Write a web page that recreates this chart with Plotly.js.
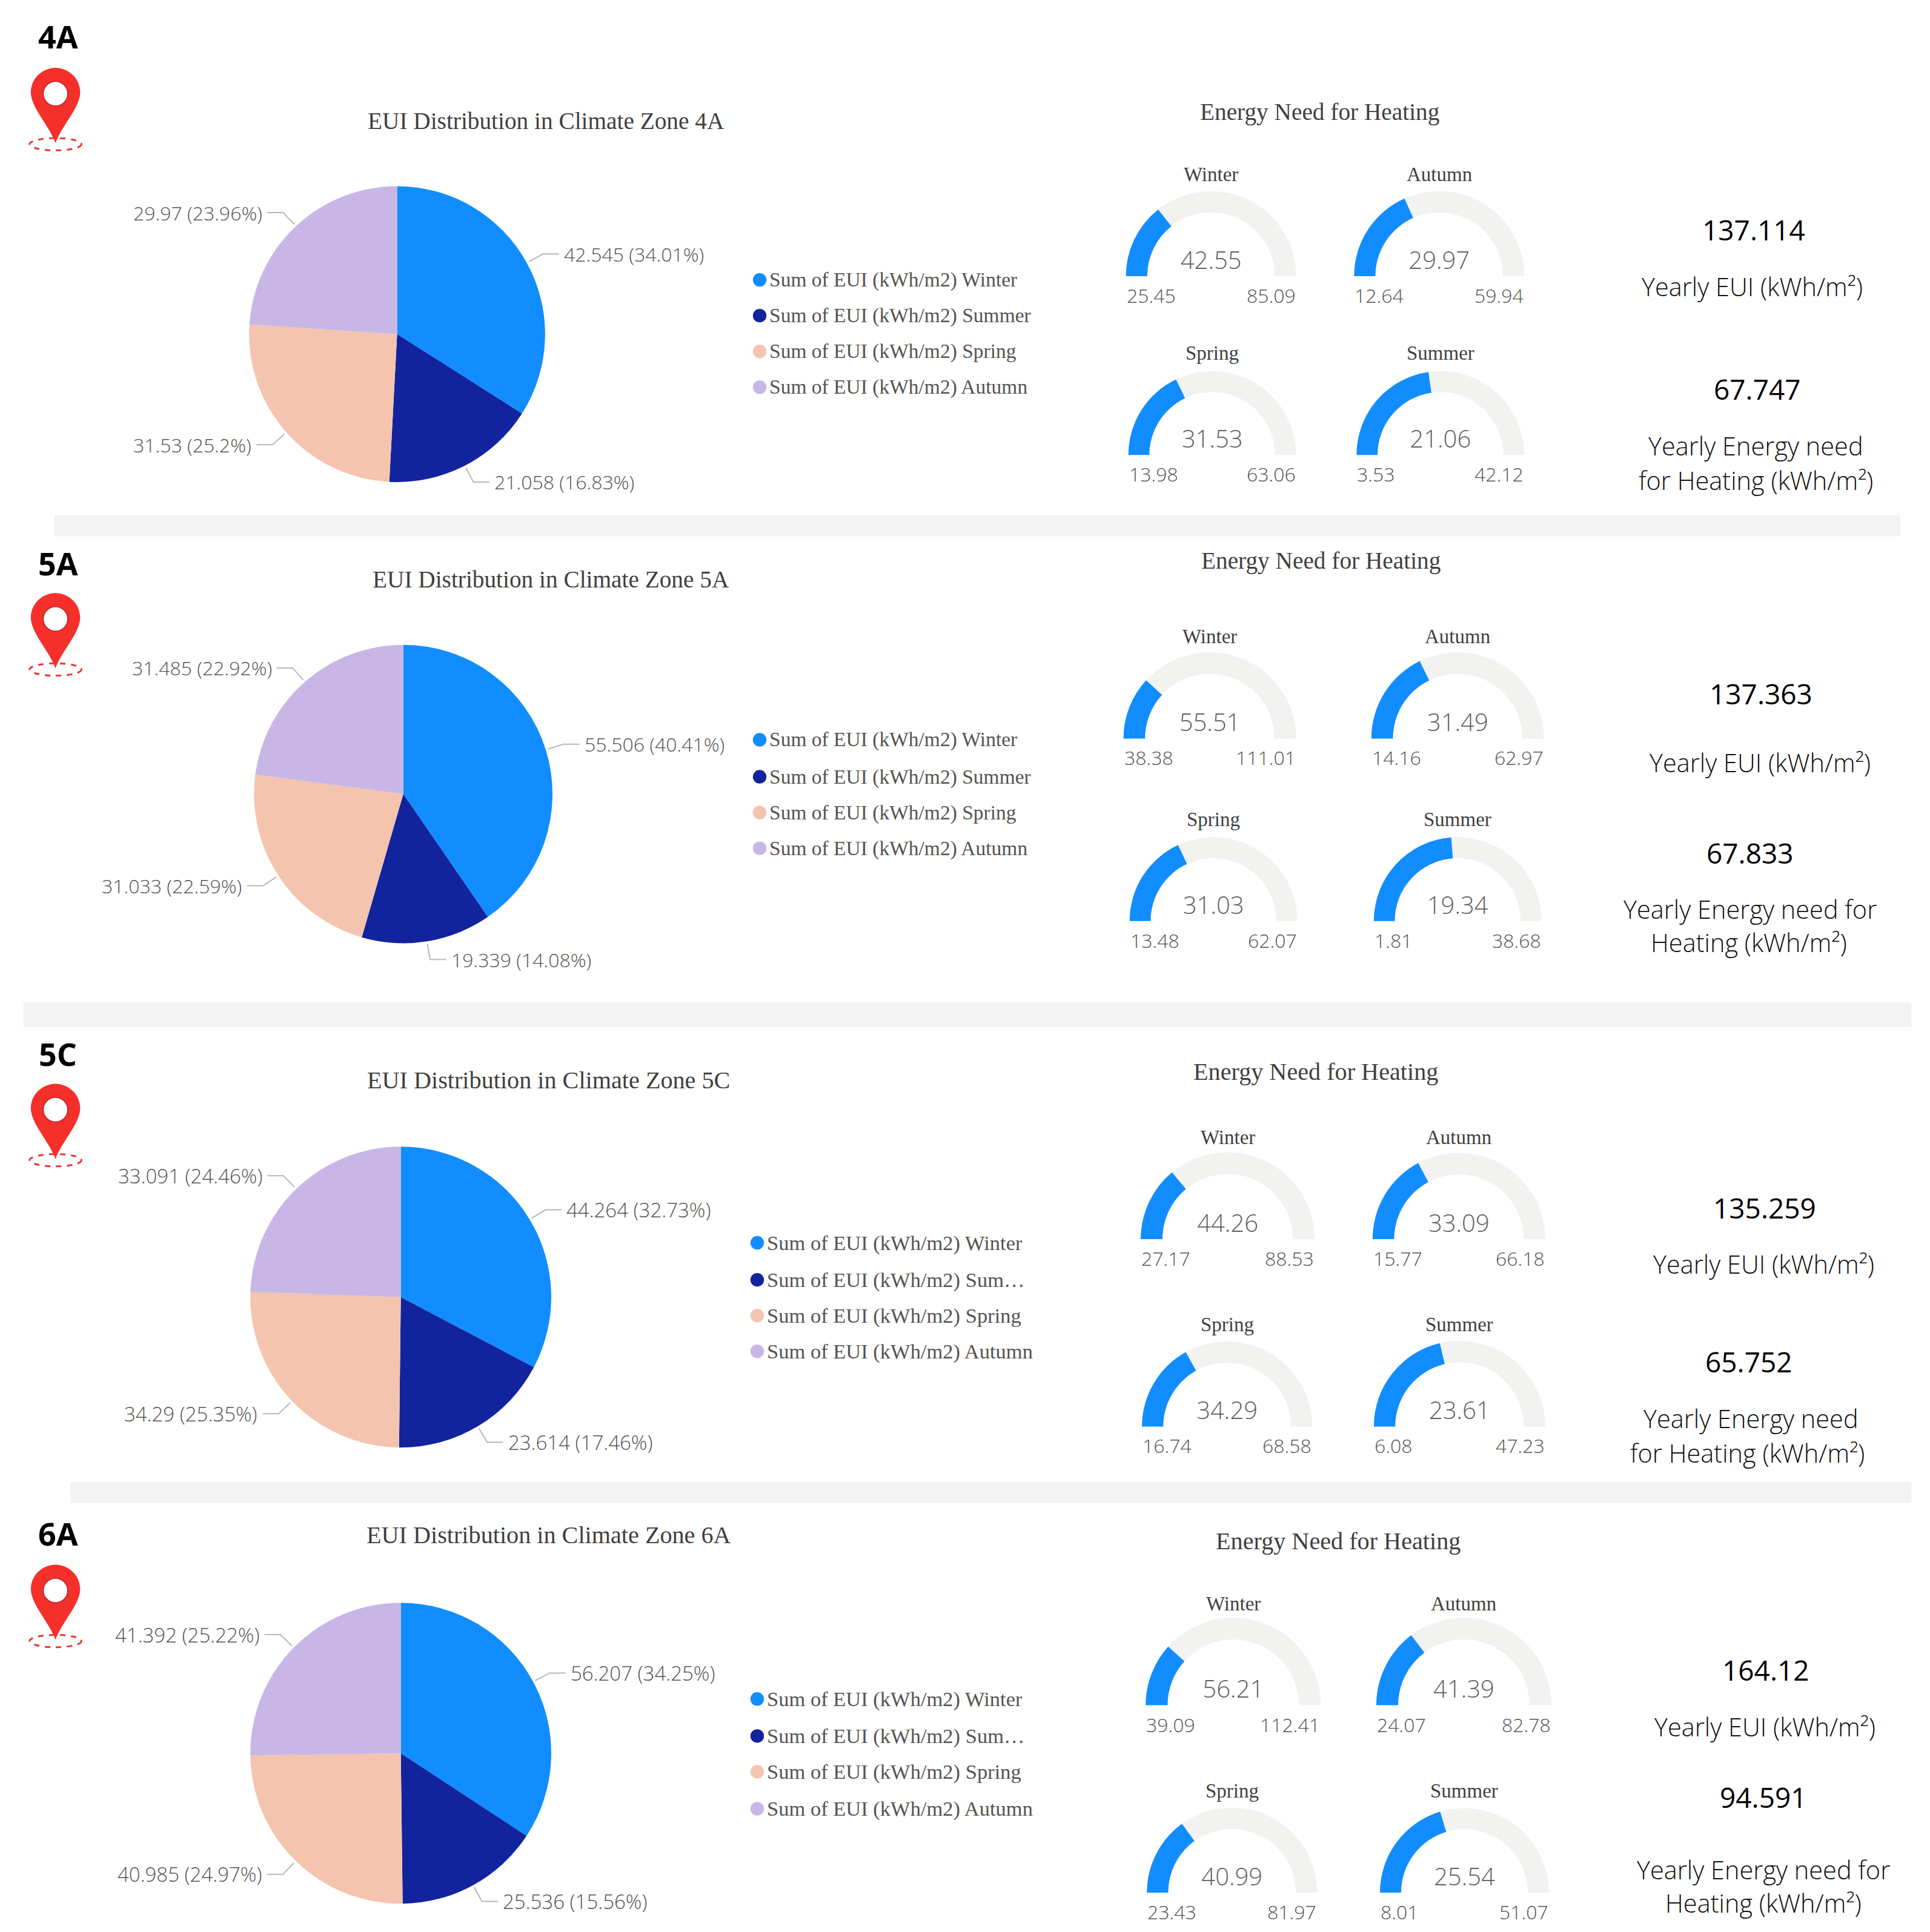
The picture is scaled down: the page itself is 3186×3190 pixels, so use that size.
<!DOCTYPE html>
<html><head><meta charset="utf-8">
<script src="https://cdn.plot.ly/plotly-3.0.1.min.js"></script>
<style>html,body{margin:0;padding:0;background:#fff}</style></head>
<body><div id="chart" style="width:3186px;height:3190px"></div>
<script>
// ---------- data ----------
const zones = ['4A','5A','5C','6A'];
const sliceNames = ['Winter','Summer','Spring','Autumn'];
const sliceColors = ['#118DFF','#12239E','#F4C4AE','#C8B7E6'];
const legendLong = ['Sum of EUI (kWh/m2) Winter','Sum of EUI (kWh/m2) Summer','Sum of EUI (kWh/m2) Spring','Sum of EUI (kWh/m2) Autumn'];
const legendShort = ['Sum of EUI (kWh/m2) Winter','Sum of EUI (kWh/m2) Sum…','Sum of EUI (kWh/m2) Spring','Sum of EUI (kWh/m2) Autumn'];

const pie4A = [42.545,21.058,31.53,29.97];
const pie5A = [55.506,19.339,31.033,31.485];
const pie5C = [44.264,23.614,34.29,33.091];
const pie6A = [56.207,25.536,40.985,41.392];
const pct4A = ['34.01%','16.83%','25.2%','23.96%'];
const pct5A = ['40.41%','14.08%','22.59%','22.92%'];
const pct5C = ['32.73%','17.46%','25.35%','24.46%'];
const pct6A = ['34.25%','15.56%','24.97%','25.22%'];

const gaugeNames = ['Winter','Autumn','Spring','Summer'];
const gaugeVal4A = [42.55,29.97,31.53,21.06];
const gaugeMin4A = [25.45,12.64,13.98,3.53];
const gaugeMax4A = [85.09,59.94,63.06,42.12];
const gaugeVal5A = [55.51,31.49,31.03,19.34];
const gaugeMin5A = [38.38,14.16,13.48,1.81];
const gaugeMax5A = [111.01,62.97,62.07,38.68];
const gaugeVal5C = [44.26,33.09,34.29,23.61];
const gaugeMin5C = [27.17,15.77,16.74,6.08];
const gaugeMax5C = [88.53,66.18,68.58,47.23];
const gaugeVal6A = [56.21,41.39,40.99,25.54];
const gaugeMin6A = [39.09,24.07,23.43,8.01];
const gaugeMax6A = [112.41,82.78,81.97,51.07];

const yearlyEUI = ['137.114','137.363','135.259','164.12'];
const yearlyNeed = ['67.747','67.833','65.752','94.591'];
const needLabel1 = ['Yearly Energy need','Yearly Energy need for','Yearly Energy need','Yearly Energy need for'];
const needLabel2 = ['for Heating (kWh/m²)','Heating (kWh/m²)','for Heating (kWh/m²)','Heating (kWh/m²)'];

// ---------- layout positions (in 1565-wide design units) ----------
const W=3186,H=3190,S=W/1565;
const X=v=>v*S/W, Y=v=>1-v*S/H;
const SERIF='"Liberation Serif", serif', SANS='"Open Sans", sans-serif';
const GREY='#555351', TITLE='#3f3f3f';

const sections=[
 {pie:pie4A,pct:pct4A,val:gaugeVal4A,min:gaugeMin4A,max:gaugeMax4A,legend:legendLong,titleSize:39.3,labelSize:32,legendSize:33.5,
  zoneY:30,pinTop:55,c:[322,271],r:120,title:[443,98],need:[1070,91],lx:616,ly:[227,256,285,314],
  g:[[913,1051,224],[1098,1236,224],[915,1051,369],[1100,1236,369]],
  k:[[1422,187],[1421,233],[1425,316],[1424,362],[1424,390]]},
 {pie:pie5A,pct:pct5A,val:gaugeVal5A,min:gaugeMin5A,max:gaugeMax5A,legend:legendLong,titleSize:39.3,labelSize:32,legendSize:33.5,
  zoneY:457,pinTop:481,c:[327,644],r:121,title:[447,470],need:[1071,455],lx:616,ly:[600,630,659,688],
  g:[[911,1051,599],[1112,1252,599],[916,1052,747],[1114,1250,747]],
  k:[[1428,563],[1427,619],[1419,692],[1419,738],[1418,765]]},
 {pie:pie5C,pct:pct5C,val:gaugeVal5C,min:gaugeMin5C,max:gaugeMax5C,legend:legendShort,titleSize:40.2,labelSize:33,legendSize:34.5,
  zoneY:855,pinTop:879,c:[325,1052],r:122,title:[445,876],need:[1067,869],lx:614,ly:[1008,1038,1067,1096],
  g:[[925,1066,1005],[1113,1253,1005],[926,1064,1157],[1114,1253,1157]],
  k:[[1431,980],[1430,1026],[1418,1105],[1420,1151],[1417,1179]]},
 {pie:pie6A,pct:pct6A,val:gaugeVal6A,min:gaugeMin6A,max:gaugeMax6A,legend:legendShort,titleSize:40.2,labelSize:33,legendSize:34.5,
  zoneY:1244,pinTop:1269,c:[325,1422],r:122,title:[445,1245],need:[1085,1250],lx:614,ly:[1378,1408,1437,1467],
  g:[[929,1071,1383],[1116,1258,1383],[930,1068,1535],[1119,1256,1535]],
  k:[[1432,1355],[1431,1401],[1430,1458],[1430,1517],[1430,1544]]}
];
const bands=[[44,1541,418,435],[19,1550,813,833],[57,1550,1202,1219]];

const traces=[],ann=[],shapes=[];
const txt=(t,x,y,size,color,font,anchor='center',weight=400)=>ann.push({text:t,x:X(x),y:Y(y),xref:'paper',yref:'paper',
  showarrow:false,xanchor:anchor,yanchor:'middle',font:{size,color,family:font,weight},borderpad:0});

bands.forEach(b=>shapes.push({type:'rect',xref:'paper',yref:'paper',x0:X(b[0]),x1:X(b[1]),y0:Y(b[2]),y1:Y(b[3]),
  fillcolor:'#F3F3F3',line:{width:0},layer:'below'}));

sections.forEach((s,i)=>{
  // zone label + pin
  txt('<b>'+zones[i]+'</b>',47,s.zoneY-0.6,52,'#000',SANS);
  const t=s.pinTop,cx=45;
  const P=(x,y)=>X(x)+','+Y(y);
  shapes.push({type:'circle',xref:'paper',yref:'paper',x0:X(cx-21),x1:X(cx+21),y0:Y(t+67),y1:Y(t+57),
    fillcolor:'rgba(0,0,0,0)',line:{color:'#E53935',width:3,dash:'dash'}});
  shapes.push({type:'path',xref:'paper',yref:'paper',fillcolor:'#F5302B',line:{width:0},
    path:`M${P(cx,t+61)} C${P(cx-5,t+47)} ${P(cx-20,t+32)} ${P(cx-20,t+20)} C${P(cx-20,t+8)} ${P(cx-10,t)} ${P(cx,t)} C${P(cx+10,t)} ${P(cx+20,t+8)} ${P(cx+20,t+20)} C${P(cx+20,t+32)} ${P(cx+5,t+47)} ${P(cx,t+61)} Z`});
  shapes.push({type:'circle',xref:'paper',yref:'paper',x0:X(cx-10),x1:X(cx+10),y0:Y(t+31),y1:Y(t+11),
    fillcolor:'#FFFFFF',line:{color:'#C62828',width:2}});

  // pie
  traces.push({type:'pie',values:s.pie,labels:sliceNames,sort:false,direction:'clockwise',rotation:0,
    marker:{colors:sliceColors,line:{width:0}},textinfo:'none',showlegend:false,hoverinfo:'label+value+percent',
    domain:{x:[X(s.c[0]-s.r),X(s.c[0]+s.r)],y:[Y(s.c[1]+s.r),Y(s.c[1]-s.r)]}});
  txt('EUI Distribution in Climate Zone '+zones[i],s.title[0],s.title[1],s.titleSize,TITLE,SERIF);

  // slice labels with leader lines, positioned from the slice mid-angles
  const total=s.pie.reduce((a,b)=>a+b,0); let acc=0;
  s.pie.forEach((v,j)=>{
    const a=(acc+v/2)/total*2*Math.PI; acc+=v;
    const sx=Math.sin(a),cy=-Math.cos(a);
    const right=sx>=0, dir=right?1:-1;
    const x0=s.c[0]+(s.r+2)*sx,y0=s.c[1]+(s.r+2)*cy;
    const x1=s.c[0]+(s.r+15)*sx,y1=s.c[1]+(s.r+15)*cy;
    const x2=x1+dir*13;
    shapes.push({type:'path',xref:'paper',yref:'paper',line:{color:'#B8B8B8',width:2},
      path:`M${X(x0)},${Y(y0)} L${X(x1)},${Y(y1)} L${X(x2)},${Y(y1)}`});
    txt(v+' ('+s.pct[j]+')',x2+dir*3.5,y1,s.labelSize,GREY,SANS,right?'left':'right',300);
  });

  // legend
  s.legend.forEach((l,j)=>{
    const y=s.ly[j],lx=s.lx;
    shapes.push({type:'circle',xref:'paper',yref:'paper',x0:X(lx-5.5),x1:X(lx+5.5),y0:Y(y+5.5),y1:Y(y-5.5),
      fillcolor:sliceColors[j],line:{width:0}});
    txt(l,lx+7.5,y,s.legendSize,GREY,SERIF,'left');
  });

  // gauges
  txt('Energy Need for Heating',s.need[0],s.need[1],s.titleSize,TITLE,SERIF);
  s.g.forEach((g,j)=>{
    const [L,R,base]=g,rad=(R-L)/2,mid=(L+R)/2;
    traces.push({type:'indicator',mode:'gauge+number',value:s.val[j],
      number:{valueformat:'.2f',font:{size:40,color:'#5f5f5f',family:SANS,weight:300}},
      domain:{x:[X(L),X(R)],y:[Y(base),Y(base-rad)]},
      gauge:{shape:'angular',axis:{range:[s.min[j],s.max[j]],visible:false},
        bar:{color:sliceColors[0],thickness:1},bgcolor:'#F2F2F1',borderwidth:0}});
    txt(gaugeNames[j],mid,base-82.5,33,TITLE,SERIF);
    txt(String(s.min[j]),L,base+15.5,32,GREY,SANS,'left',300);
    txt(String(s.max[j]),R,base+15.5,32,GREY,SANS,'right',300);
  });

  // KPIs
  txt(yearlyEUI[i],s.k[0][0],s.k[0][1]-0.6,46,'#000',SANS);
  txt('Yearly EUI (kWh/m²)',s.k[1][0],s.k[1][1]-0.6,41.5,'#111',SANS,'center',300);
  txt(yearlyNeed[i],s.k[2][0],s.k[2][1]-0.6,46,'#000',SANS);
  txt(needLabel1[i],s.k[3][0],s.k[3][1]-0.6,41.5,'#111',SANS,'center',300);
  txt(needLabel2[i],s.k[4][0],s.k[4][1]-0.6,41.5,'#111',SANS,'center',300);
});

Plotly.newPlot('chart',traces,{width:W,height:H,margin:{l:0,r:0,t:0,b:0,pad:0},
  paper_bgcolor:'#fff',plot_bgcolor:'#fff',showlegend:false,annotations:ann,shapes:shapes},{displayModeBar:false,responsive:false});
</script></body></html>
